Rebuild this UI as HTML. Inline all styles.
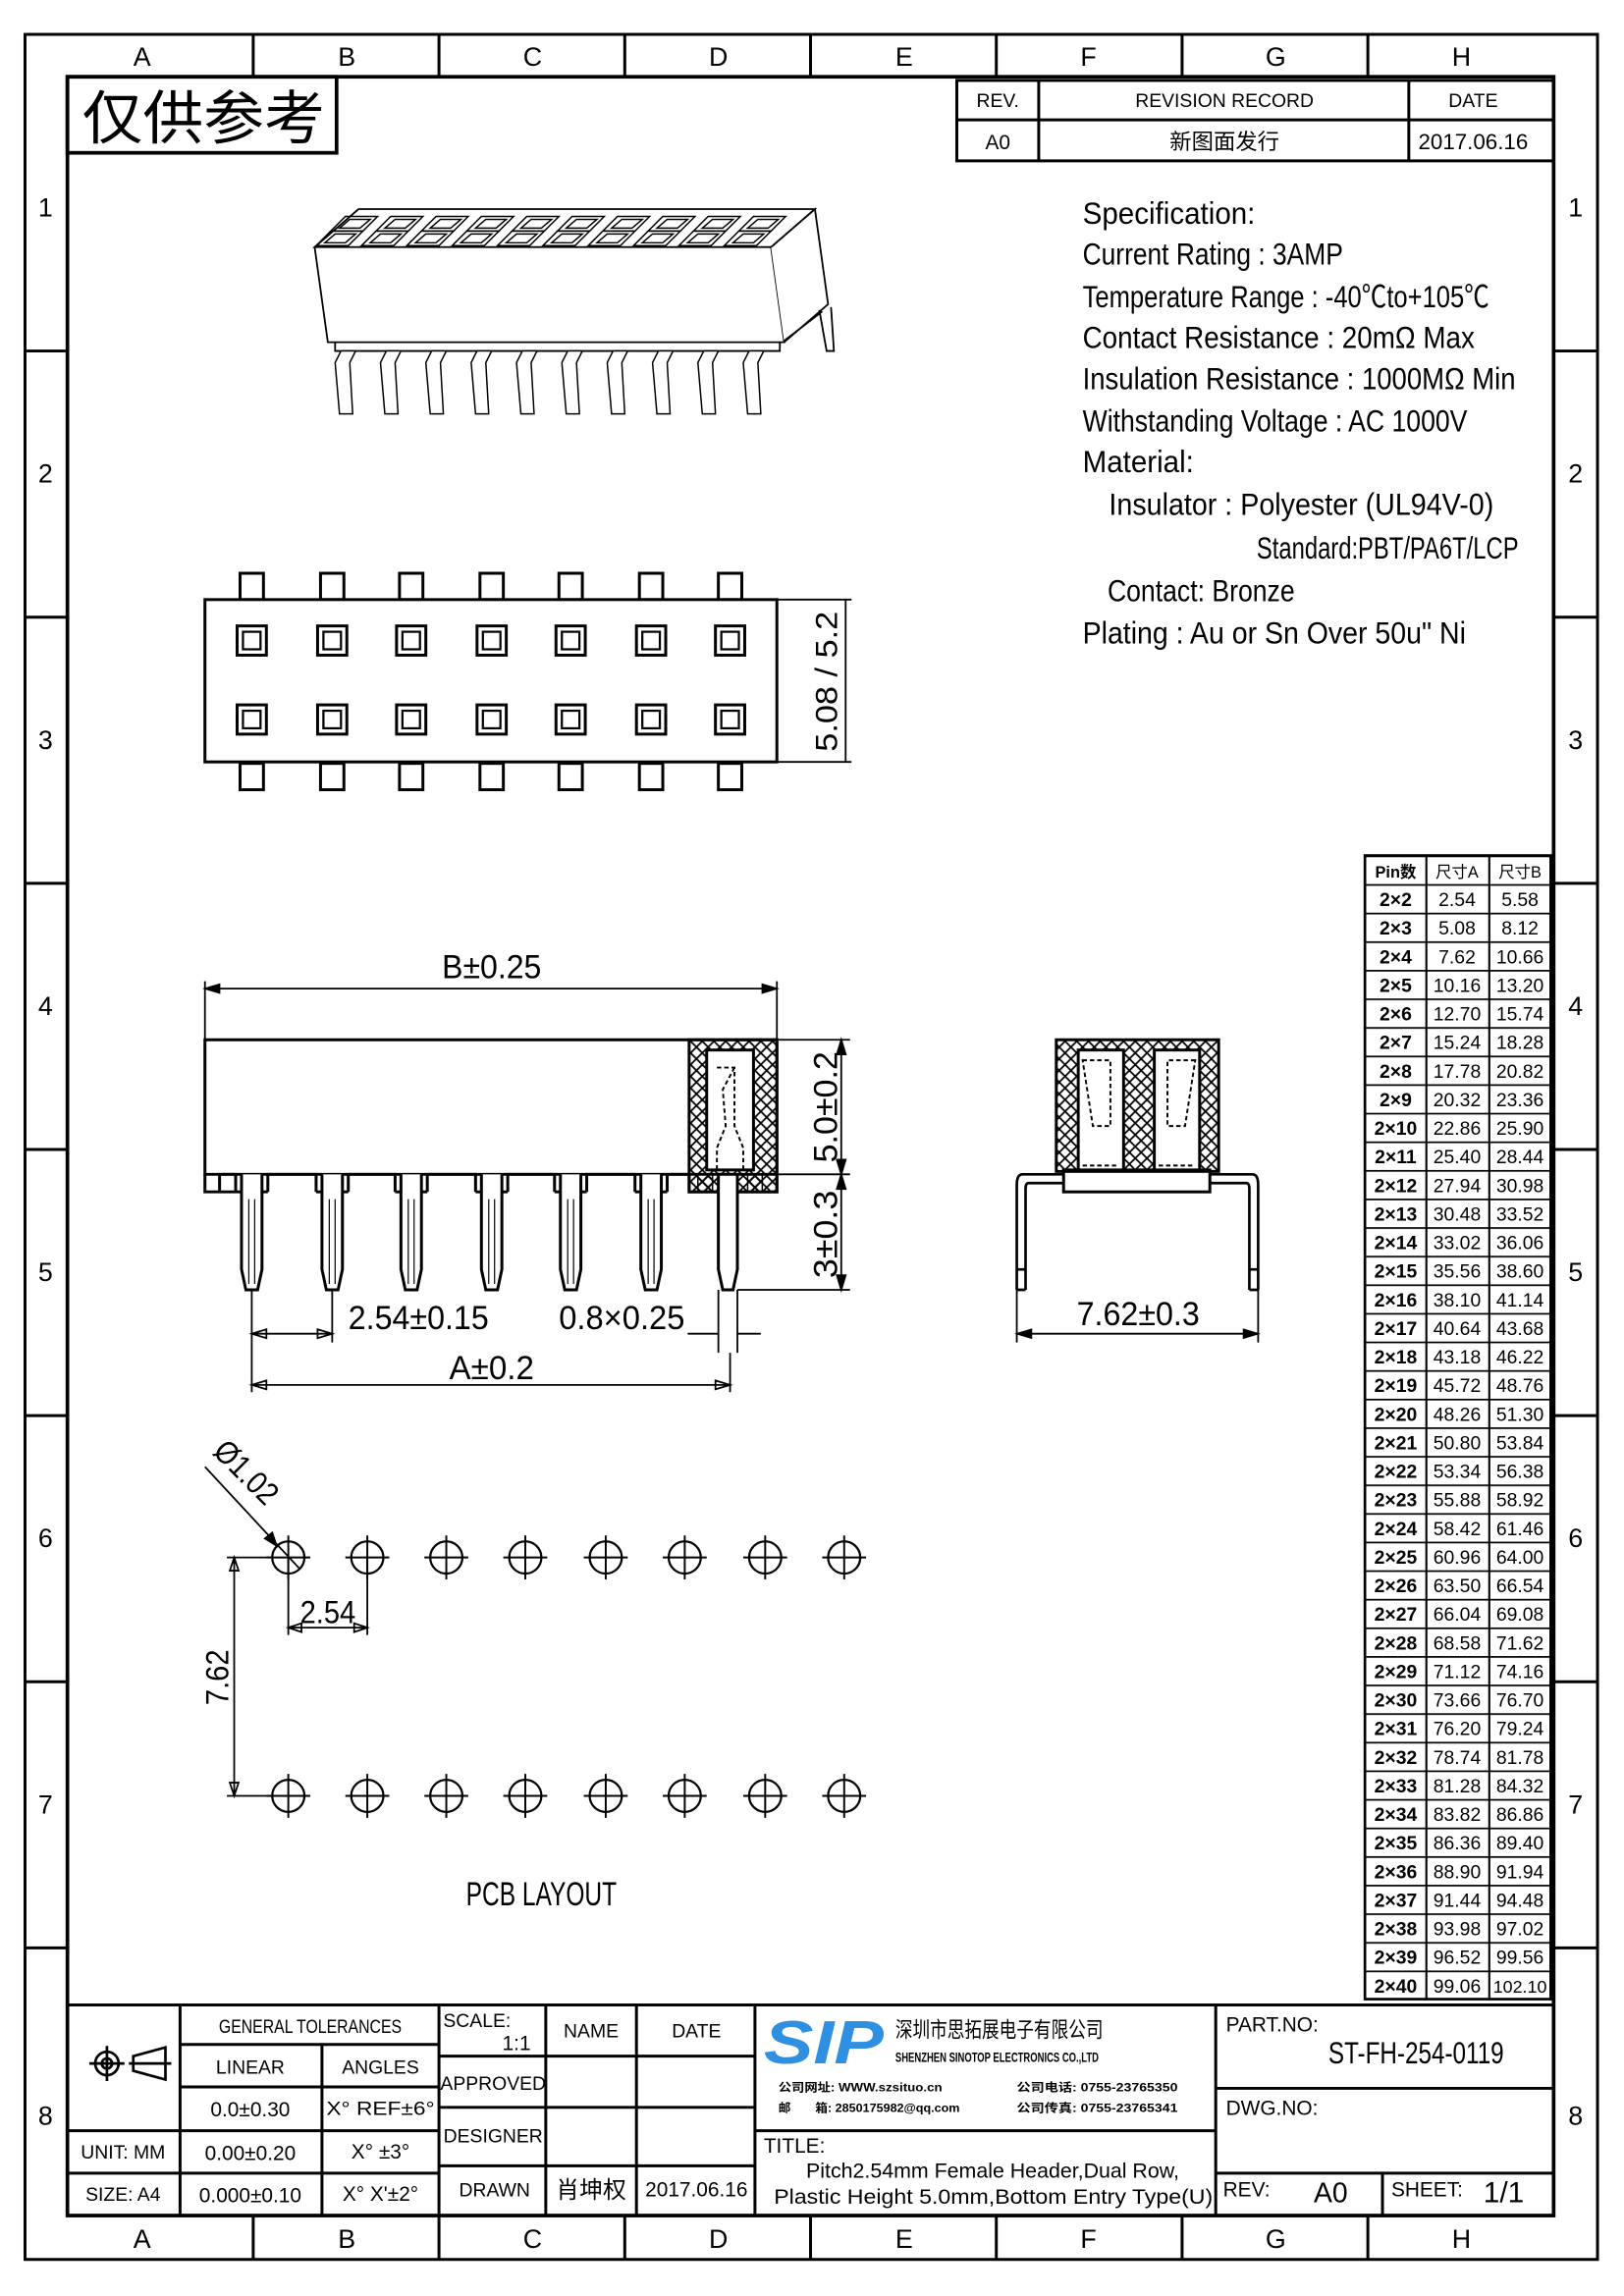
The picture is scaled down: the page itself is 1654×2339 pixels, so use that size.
<!DOCTYPE html>
<html><head><meta charset="utf-8"><style>
html,body{margin:0;padding:0;background:#fff}
svg{display:block}
text{font-family:"Liberation Sans Narrow","Liberation Sans","Noto Sans CJK SC",sans-serif;fill:#000}
.cj{font-family:"Noto Sans CJK SC","WenQuanYi Zen Hei",sans-serif}
</style></head><body>
<svg width="1654" height="2339" viewBox="0 0 1110 1570" xmlns="http://www.w3.org/2000/svg">
<defs>
<pattern id="hx" width="8" height="8" patternUnits="userSpaceOnUse"><path d="M0 0L8 8M8 0L0 8" stroke="#000" stroke-width="1.2"/></pattern>
<pattern id="tl" x="933" y="585" width="127" height="19.55" patternUnits="userSpaceOnUse"><line x1="0" y1="0.5" x2="127" y2="0.5" stroke="#000" stroke-width="1.4"/></pattern>
<g id="hole"><circle r="11" fill="none" stroke="#000" stroke-width="1.5"/><path d="M-15 0H15M0-15V15" stroke="#000" stroke-width="1.3"/></g>
<g id="sq"><rect x="-10" y="-10" width="20" height="20" fill="none" stroke="#000" stroke-width="2"/><rect x="-6" y="-6" width="12" height="12" fill="none" stroke="#000" stroke-width="1.5"/></g>
<g id="tab"><rect x="-8" y="0" width="16" height="18" fill="#fff" stroke="#000" stroke-width="2"/></g>
<g id="pin"><path d="M-7 803V868L-4 882H4L7 868V803" fill="#fff" stroke="#000" stroke-width="2"/><path d="M-2 820V878M2 820V878" stroke="#000" stroke-width="0.8"/></g>
<g id="ph"><path d="M0 0H22L12 10H-10Z M3 2H17L10 8H-4Z" fill="none" stroke="#000" stroke-width="1"/></g>
<g id="leg"><path d="M0 0L4 -8H14L10 0L12 35H3Z" fill="#fff" stroke="#000" stroke-width="1"/><path d="M10 0L14-8" stroke="#000" stroke-width="0.8"/></g>
</defs>
<rect width="1110" height="1570" fill="#fff"/>
<rect x="17" y="23.5" width="1075" height="1521.5" fill="none" stroke="#000" stroke-width="2"/>
<rect x="46" y="52.5" width="1016" height="1462.5" fill="none" stroke="#000" stroke-width="2.5"/>
<path d="M173 23.5V52.5M300 23.5V52.5M427 23.5V52.5M554 23.5V52.5M681 23.5V52.5M808 23.5V52.5M935 23.5V52.5M173 1515V1545M300 1515V1545M427 1515V1545M554 1515V1545M681 1515V1545M808 1515V1545M935 1515V1545" stroke="#000" stroke-width="2"/>
<path d="M17 240H46M17 422H46M17 604H46M17 786H46M17 968H46M17 1150H46M17 1332H46M1062 240H1092M1062 422H1092M1062 604H1092M1062 786H1092M1062 968H1092M1062 1150H1092M1062 1332H1092" stroke="#000" stroke-width="2"/>
<g font-size="18" text-anchor="middle">
<text x="97" y="45">A</text><text x="237" y="45">B</text><text x="364" y="45">C</text><text x="491" y="45">D</text><text x="618" y="45">E</text><text x="744" y="45">F</text><text x="872" y="45">G</text><text x="999" y="45">H</text>
<text x="97" y="1537">A</text><text x="237" y="1537">B</text><text x="364" y="1537">C</text><text x="491" y="1537">D</text><text x="618" y="1537">E</text><text x="744" y="1537">F</text><text x="872" y="1537">G</text><text x="999" y="1537">H</text>
<text x="31" y="148">1</text><text x="31" y="330">2</text><text x="31" y="512">3</text><text x="31" y="694">4</text><text x="31" y="876">5</text><text x="31" y="1058">6</text><text x="31" y="1240">7</text><text x="31" y="1453">8</text>
<text x="1077" y="148">1</text><text x="1077" y="330">2</text><text x="1077" y="512">3</text><text x="1077" y="694">4</text><text x="1077" y="876">5</text><text x="1077" y="1058">6</text><text x="1077" y="1240">7</text><text x="1077" y="1453">8</text>
</g>
<rect x="46" y="52.5" width="184" height="52" fill="none" stroke="#000" stroke-width="2.5"/>
<text x="56" y="95" font-size="40" class="cj" textLength="166" lengthAdjust="spacingAndGlyphs">仅供参考</text>
<rect x="654" y="55" width="408" height="55" fill="none" stroke="#000" stroke-width="2"/>
<path d="M654 82H1062M710 55V110M963 55V110" stroke="#000" stroke-width="2"/>
<g font-size="13" text-anchor="middle">
<text x="682" y="73">REV.</text><text x="837" y="73">REVISION RECORD</text><text x="1007" y="73">DATE</text>
<text x="682" y="102" font-size="14">A0</text><text x="837" y="102" font-size="15" class="cj">新图面发行</text><text x="1007" y="102" font-size="15">2017.06.16</text>
</g>
<g font-size="21">
<text x="740" y="153" textLength="118" lengthAdjust="spacingAndGlyphs">Specification:</text>
<text x="740" y="181" textLength="178" lengthAdjust="spacingAndGlyphs">Current Rating : 3AMP</text>
<text x="740" y="210" textLength="278" lengthAdjust="spacingAndGlyphs">Temperature Range : -40℃to+105℃</text>
<text x="740" y="238" textLength="268" lengthAdjust="spacingAndGlyphs">Contact Resistance : 20mΩ Max</text>
<text x="740" y="266" textLength="296" lengthAdjust="spacingAndGlyphs">Insulation Resistance : 1000MΩ Min</text>
<text x="740" y="295" textLength="263" lengthAdjust="spacingAndGlyphs">Withstanding Voltage : AC 1000V</text>
<text x="740" y="323" textLength="76" lengthAdjust="spacingAndGlyphs">Material:</text>
<text x="758" y="352" textLength="263" lengthAdjust="spacingAndGlyphs">Insulator : Polyester (UL94V-0)</text>
<text x="859" y="382" textLength="179" lengthAdjust="spacingAndGlyphs">Standard:PBT/PA6T/LCP</text>
<text x="757" y="411" textLength="128" lengthAdjust="spacingAndGlyphs">Contact: Bronze</text>
<text x="740" y="440" textLength="262" lengthAdjust="spacingAndGlyphs">Plating : Au or Sn Over 50u" Ni</text>
</g>
<g stroke="#000" stroke-width="1.2" fill="none">
<path d="M215 169L245 143H557L527 169Z" fill="#fff"/>
<path d="M215 169H527L536 234H224Z" fill="#fff"/>
<path d="M527 169L557 143L566 208L536 234" fill="#fff"/>
<path d="M229 234V240H533V234"/>
<path d="M536 233L562 213"/>
<path d="M560 212L565 240H570L568 210"/>
</g>
<g>
<use href="#ph" x="236" y="148"/><use href="#ph" x="267" y="148"/><use href="#ph" x="298" y="148"/><use href="#ph" x="329" y="148"/><use href="#ph" x="360" y="148"/><use href="#ph" x="391" y="148"/><use href="#ph" x="422" y="148"/><use href="#ph" x="453" y="148"/><use href="#ph" x="484" y="148"/><use href="#ph" x="515" y="148"/>
<use href="#ph" x="226" y="158"/><use href="#ph" x="257" y="158"/><use href="#ph" x="288" y="158"/><use href="#ph" x="319" y="158"/><use href="#ph" x="350" y="158"/><use href="#ph" x="381" y="158"/><use href="#ph" x="412" y="158"/><use href="#ph" x="443" y="158"/><use href="#ph" x="474" y="158"/><use href="#ph" x="505" y="158"/>
<use href="#leg" x="229" y="248"/><use href="#leg" x="260" y="248"/><use href="#leg" x="291" y="248"/><use href="#leg" x="322" y="248"/><use href="#leg" x="353" y="248"/><use href="#leg" x="384" y="248"/><use href="#leg" x="415" y="248"/><use href="#leg" x="446" y="248"/><use href="#leg" x="477" y="248"/><use href="#leg" x="508" y="248"/>
</g>
<g>
<use href="#tab" x="172" y="392"/><use href="#tab" x="227" y="392"/><use href="#tab" x="281" y="392"/><use href="#tab" x="336" y="392"/><use href="#tab" x="390" y="392"/><use href="#tab" x="445" y="392"/><use href="#tab" x="499" y="392"/>
<use href="#tab" x="172" y="522"/><use href="#tab" x="227" y="522"/><use href="#tab" x="281" y="522"/><use href="#tab" x="336" y="522"/><use href="#tab" x="390" y="522"/><use href="#tab" x="445" y="522"/><use href="#tab" x="499" y="522"/>
<rect x="140" y="410" width="391" height="111" fill="#fff" stroke="#000" stroke-width="2"/>
<use href="#sq" x="172" y="438"/><use href="#sq" x="227" y="438"/><use href="#sq" x="281" y="438"/><use href="#sq" x="336" y="438"/><use href="#sq" x="390" y="438"/><use href="#sq" x="445" y="438"/><use href="#sq" x="499" y="438"/>
<use href="#sq" x="172" y="492"/><use href="#sq" x="227" y="492"/><use href="#sq" x="281" y="492"/><use href="#sq" x="336" y="492"/><use href="#sq" x="390" y="492"/><use href="#sq" x="445" y="492"/><use href="#sq" x="499" y="492"/>
<path d="M531 410H582M531 521H582M578 410V521" stroke="#000" stroke-width="1.2"/>
<text transform="translate(572 466) rotate(-90)" font-size="21" text-anchor="middle" textLength="96" lengthAdjust="spacingAndGlyphs">5.08 / 5.2</text>
</g>
<g stroke="#000" fill="none">
<path d="M140 671V711M531 671V711M140 676H531" stroke-width="1.2"/>
<path d="M140 676l10-3v6zM531 676l-10-3v6z" fill="#000"/>
<path d="M140 711H531V803H140Z" fill="#fff" stroke-width="2"/>
<path d="M140 803V815H150V803H161V815M183 815V803H216V815M238 815V803H270V815M292 815V803H325V815M347 815V803H379V815M401 815V803H434V815M456 815V803H471V815H531V803M150 815H161" stroke-width="2"/>
<path d="M161 815H183M216 815H238M270 815H292M325 815H347M379 815H401M434 815H456" stroke-width="2"/>
<rect x="471" y="711" width="60" height="104" fill="url(#hx)" stroke-width="2"/>
<rect x="483" y="718" width="32" height="82" fill="#fff" stroke-width="2"/>
<rect x="477" y="803" width="10" height="12" fill="url(#hx)"/>
<rect x="511" y="803" width="10" height="12" fill="url(#hx)"/>
<path d="M490 730h12v40l6 15v15M502 730l-8 15 2 25-6 15v15" stroke-dasharray="3 2" stroke-width="1.3"/>
</g>
<use href="#pin" x="172"/><use href="#pin" x="227"/><use href="#pin" x="281"/><use href="#pin" x="336"/><use href="#pin" x="390"/><use href="#pin" x="445"/>
<g stroke="#000" stroke-width="2" fill="#fff"><path d="M491 803V868L494 882H501L504 868V803Z"/></g>
<g stroke="#000" stroke-width="1.2" fill="none">
<path d="M531 711H581M531 803H581M504 882H581M575 711V882"/>
<path d="M575 711l-3 10h6zM575 803l-3-10h6zM575 803l-3 10h6zM575 882l-3-10h6z" fill="#000"/>
<path d="M172 882V918M227 882V918M172 912H227M172 912l10-3v6zM227 912l-10-3v6z"/>
<path d="M491 882V925M504 882V925M470 912H491M504 912H520"/>
<path d="M172 918V952M499 925V952M172 947H499M172 947l10-3v6zM499 947l-10-3v6z"/>
</g>
<g font-size="23">
<text x="336" y="669" text-anchor="middle" textLength="68" lengthAdjust="spacingAndGlyphs">B±0.25</text>
<text transform="translate(572 757) rotate(-90)" text-anchor="middle" textLength="76" lengthAdjust="spacingAndGlyphs">5.0±0.2</text>
<text transform="translate(572 844) rotate(-90)" text-anchor="middle" textLength="60" lengthAdjust="spacingAndGlyphs">3±0.3</text>
<text x="286" y="909" text-anchor="middle" textLength="96" lengthAdjust="spacingAndGlyphs">2.54±0.15</text>
<text x="425" y="909" text-anchor="middle" textLength="86" lengthAdjust="spacingAndGlyphs">0.8×0.25</text>
<text x="336" y="943" text-anchor="middle" textLength="58" lengthAdjust="spacingAndGlyphs">A±0.2</text>
<text x="778" y="906" text-anchor="middle" textLength="84" lengthAdjust="spacingAndGlyphs">7.62±0.3</text>
</g>
<g stroke="#000" fill="none">
<path d="M740 803H699Q695 803 695 810V882M740 809H703Q701 809 701 813V882M695 882H701M695 868H701" stroke-width="1.8"/>
<path d="M815 803H856Q860 803 860 810V882M815 809H852Q854 809 854 813V882M854 882H860M854 868H860" stroke-width="1.8"/>
<rect x="727" y="800" width="100" height="15" fill="#fff" stroke-width="2"/>
<rect x="722" y="711" width="111" height="90" fill="url(#hx)" stroke-width="2"/>
<rect x="737" y="718" width="31" height="82" fill="#fff" stroke-width="2"/>
<rect x="789" y="718" width="31" height="82" fill="#fff" stroke-width="2"/>
<path d="M740 725H759V770H747ZM817 725H798V770H810Z" stroke-dasharray="3 2" stroke-width="1.3"/>
<path d="M740 797H765M792 797H817" stroke-dasharray="3 2" stroke-width="1.3"/>
<path d="M695 882V918M860 882V918M695 912H860" stroke-width="1.2"/>
<path d="M695 912l10-3v6zM860 912l-10-3v6z" fill="#000" stroke-width="1"/>
</g>
<g>
<use href="#hole" x="197" y="1065"/><use href="#hole" x="251" y="1065"/><use href="#hole" x="305" y="1065"/><use href="#hole" x="359" y="1065"/><use href="#hole" x="414" y="1065"/><use href="#hole" x="468" y="1065"/><use href="#hole" x="523" y="1065"/><use href="#hole" x="577" y="1065"/>
<use href="#hole" x="197" y="1228"/><use href="#hole" x="251" y="1228"/><use href="#hole" x="305" y="1228"/><use href="#hole" x="359" y="1228"/><use href="#hole" x="414" y="1228"/><use href="#hole" x="468" y="1228"/><use href="#hole" x="577" y="1228"/><use href="#hole" x="523" y="1228"/>
</g>
<g stroke="#000" stroke-width="1.2" fill="none">
<path d="M140 1003L205 1073"/><path d="M189 1057l-3-9l-5 4z" fill="#000"/>
<path d="M197 1065V1118M251 1065V1118M197 1113H251M197 1113l9-3v6zM251 1113l-9-3v6z"/>
<path d="M186 1065H155M186 1228H155M160 1065V1228M160 1065l-3 9h6zM160 1228l-3-9h6z"/>
</g>
<g font-size="22">
<text transform="translate(163 1012) rotate(45)" text-anchor="middle" textLength="52" lengthAdjust="spacingAndGlyphs">Ø1.02</text>
<text x="224" y="1110" text-anchor="middle" textLength="38" lengthAdjust="spacingAndGlyphs">2.54</text>
<text transform="translate(156 1147) rotate(-90)" text-anchor="middle" textLength="38" lengthAdjust="spacingAndGlyphs">7.62</text>
<text x="370" y="1303" text-anchor="middle" font-size="23" textLength="103" lengthAdjust="spacingAndGlyphs">PCB LAYOUT</text>
</g>
<rect x="933" y="585" width="127" height="782" fill="url(#tl)" stroke="#000" stroke-width="1.8"/>
<path d="M975 585V1367M1018 585V1367" stroke="#000" stroke-width="1.4"/>
<g font-size="13" text-anchor="middle" font-weight="bold">
<text x="954" y="600"><tspan x="954" font-size="11">Pin数</tspan><tspan x="954" dy="19.55">2×2</tspan><tspan x="954" dy="19.55">2×3</tspan><tspan x="954" dy="19.55">2×4</tspan><tspan x="954" dy="19.55">2×5</tspan><tspan x="954" dy="19.55">2×6</tspan><tspan x="954" dy="19.55">2×7</tspan><tspan x="954" dy="19.55">2×8</tspan><tspan x="954" dy="19.55">2×9</tspan><tspan x="954" dy="19.55">2×10</tspan><tspan x="954" dy="19.55">2×11</tspan><tspan x="954" dy="19.55">2×12</tspan><tspan x="954" dy="19.55">2×13</tspan><tspan x="954" dy="19.55">2×14</tspan><tspan x="954" dy="19.55">2×15</tspan><tspan x="954" dy="19.55">2×16</tspan><tspan x="954" dy="19.55">2×17</tspan><tspan x="954" dy="19.55">2×18</tspan><tspan x="954" dy="19.55">2×19</tspan><tspan x="954" dy="19.55">2×20</tspan><tspan x="954" dy="19.55">2×21</tspan><tspan x="954" dy="19.55">2×22</tspan><tspan x="954" dy="19.55">2×23</tspan><tspan x="954" dy="19.55">2×24</tspan><tspan x="954" dy="19.55">2×25</tspan><tspan x="954" dy="19.55">2×26</tspan><tspan x="954" dy="19.55">2×27</tspan><tspan x="954" dy="19.55">2×28</tspan><tspan x="954" dy="19.55">2×29</tspan><tspan x="954" dy="19.55">2×30</tspan><tspan x="954" dy="19.55">2×31</tspan><tspan x="954" dy="19.55">2×32</tspan><tspan x="954" dy="19.55">2×33</tspan><tspan x="954" dy="19.55">2×34</tspan><tspan x="954" dy="19.55">2×35</tspan><tspan x="954" dy="19.55">2×36</tspan><tspan x="954" dy="19.55">2×37</tspan><tspan x="954" dy="19.55">2×38</tspan><tspan x="954" dy="19.55">2×39</tspan><tspan x="954" dy="19.55">2×40</tspan></text>
</g>
<g font-size="13" text-anchor="middle">
<text x="996" y="600"><tspan x="996" font-size="11">尺寸A</tspan><tspan x="996" dy="19.55">2.54</tspan><tspan x="996" dy="19.55">5.08</tspan><tspan x="996" dy="19.55">7.62</tspan><tspan x="996" dy="19.55">10.16</tspan><tspan x="996" dy="19.55">12.70</tspan><tspan x="996" dy="19.55">15.24</tspan><tspan x="996" dy="19.55">17.78</tspan><tspan x="996" dy="19.55">20.32</tspan><tspan x="996" dy="19.55">22.86</tspan><tspan x="996" dy="19.55">25.40</tspan><tspan x="996" dy="19.55">27.94</tspan><tspan x="996" dy="19.55">30.48</tspan><tspan x="996" dy="19.55">33.02</tspan><tspan x="996" dy="19.55">35.56</tspan><tspan x="996" dy="19.55">38.10</tspan><tspan x="996" dy="19.55">40.64</tspan><tspan x="996" dy="19.55">43.18</tspan><tspan x="996" dy="19.55">45.72</tspan><tspan x="996" dy="19.55">48.26</tspan><tspan x="996" dy="19.55">50.80</tspan><tspan x="996" dy="19.55">53.34</tspan><tspan x="996" dy="19.55">55.88</tspan><tspan x="996" dy="19.55">58.42</tspan><tspan x="996" dy="19.55">60.96</tspan><tspan x="996" dy="19.55">63.50</tspan><tspan x="996" dy="19.55">66.04</tspan><tspan x="996" dy="19.55">68.58</tspan><tspan x="996" dy="19.55">71.12</tspan><tspan x="996" dy="19.55">73.66</tspan><tspan x="996" dy="19.55">76.20</tspan><tspan x="996" dy="19.55">78.74</tspan><tspan x="996" dy="19.55">81.28</tspan><tspan x="996" dy="19.55">83.82</tspan><tspan x="996" dy="19.55">86.36</tspan><tspan x="996" dy="19.55">88.90</tspan><tspan x="996" dy="19.55">91.44</tspan><tspan x="996" dy="19.55">93.98</tspan><tspan x="996" dy="19.55">96.52</tspan><tspan x="996" dy="19.55">99.06</tspan></text>
<text x="1039" y="600"><tspan x="1039" font-size="11">尺寸B</tspan><tspan x="1039" dy="19.55">5.58</tspan><tspan x="1039" dy="19.55">8.12</tspan><tspan x="1039" dy="19.55">10.66</tspan><tspan x="1039" dy="19.55">13.20</tspan><tspan x="1039" dy="19.55">15.74</tspan><tspan x="1039" dy="19.55">18.28</tspan><tspan x="1039" dy="19.55">20.82</tspan><tspan x="1039" dy="19.55">23.36</tspan><tspan x="1039" dy="19.55">25.90</tspan><tspan x="1039" dy="19.55">28.44</tspan><tspan x="1039" dy="19.55">30.98</tspan><tspan x="1039" dy="19.55">33.52</tspan><tspan x="1039" dy="19.55">36.06</tspan><tspan x="1039" dy="19.55">38.60</tspan><tspan x="1039" dy="19.55">41.14</tspan><tspan x="1039" dy="19.55">43.68</tspan><tspan x="1039" dy="19.55">46.22</tspan><tspan x="1039" dy="19.55">48.76</tspan><tspan x="1039" dy="19.55">51.30</tspan><tspan x="1039" dy="19.55">53.84</tspan><tspan x="1039" dy="19.55">56.38</tspan><tspan x="1039" dy="19.55">58.92</tspan><tspan x="1039" dy="19.55">61.46</tspan><tspan x="1039" dy="19.55">64.00</tspan><tspan x="1039" dy="19.55">66.54</tspan><tspan x="1039" dy="19.55">69.08</tspan><tspan x="1039" dy="19.55">71.62</tspan><tspan x="1039" dy="19.55">74.16</tspan><tspan x="1039" dy="19.55">76.70</tspan><tspan x="1039" dy="19.55">79.24</tspan><tspan x="1039" dy="19.55">81.78</tspan><tspan x="1039" dy="19.55">84.32</tspan><tspan x="1039" dy="19.55">86.86</tspan><tspan x="1039" dy="19.55">89.40</tspan><tspan x="1039" dy="19.55">91.94</tspan><tspan x="1039" dy="19.55">94.48</tspan><tspan x="1039" dy="19.55">97.02</tspan><tspan x="1039" dy="19.55">99.56</tspan><tspan x="1039" dy="19.55" font-size="12">102.10</tspan></text>
</g>
<g stroke="#000" stroke-width="2" fill="none">
<path d="M46 1371H1062"/>
<path d="M123 1371V1457M46 1457H300M46 1486H300M123 1398H300M123 1427H300M220 1398V1515M123 1457V1515"/>
<path d="M300 1371V1515M373 1371V1515M435 1371V1515M516 1371V1515M300 1406H516M300 1441H516M300 1481H516"/>
<path d="M516 1457H831M831 1371V1515M831 1428H1062M831 1486H1062M945 1486V1515"/>
</g>
<g stroke="#000" stroke-width="1.8" fill="none">
<circle cx="73" cy="1411" r="8"/><circle cx="73" cy="1411" r="3.5"/><path d="M61 1411H85M73 1399V1423"/>
<path d="M91 1406L113 1400V1422L91 1416ZM88 1411H117"/>
</g>
<g font-size="13" text-anchor="middle">
<text x="212" y="1390" textLength="125" lengthAdjust="spacingAndGlyphs">GENERAL TOLERANCES</text>
<text x="171" y="1418">LINEAR</text><text x="260" y="1418">ANGLES</text>
<text x="171" y="1447" font-size="14">0.0±0.30</text><text x="260" y="1446" font-size="13" textLength="74" lengthAdjust="spacingAndGlyphs">X° REF±6°</text>
<text x="84" y="1476" font-size="13">UNIT: MM</text><text x="171" y="1477" font-size="14">0.00±0.20</text><text x="260" y="1476" font-size="14">X° ±3°</text>
<text x="84" y="1505" font-size="13">SIZE: A4</text><text x="171" y="1506" font-size="14">0.000±0.10</text><text x="260" y="1505" font-size="14">X° X'±2°</text>
<text x="326" y="1386" font-size="13">SCALE:</text><text x="353" y="1402" font-size="14">1:1</text>
<text x="404" y="1393">NAME</text><text x="476" y="1393">DATE</text>
<text x="337" y="1429">APPROVED</text><text x="337" y="1465">DESIGNER</text><text x="338" y="1502">DRAWN</text>
<text x="404" y="1503" font-size="16" class="cj">肖坤权</text><text x="476" y="1502" font-size="14">2017.06.16</text>
</g>
<text x="522" y="1411" font-size="42" font-weight="bold" font-style="italic" style="fill:#2f8fe0;font-family:'Liberation Sans',sans-serif" textLength="82" lengthAdjust="spacingAndGlyphs">SIP</text>
<text x="612" y="1393" font-size="15" class="cj" textLength="142" lengthAdjust="spacingAndGlyphs">深圳市思拓展电子有限公司</text>
<text x="612" y="1410" font-size="9" font-weight="bold" textLength="139" lengthAdjust="spacingAndGlyphs">SHENZHEN SINOTOP ELECTRONICS CO.,LTD</text>
<g font-size="8" font-weight="bold">
<text x="532" y="1430" textLength="112" lengthAdjust="spacingAndGlyphs">公司网址: WWW.szsituo.cn</text>
<text x="532" y="1444" textLength="124" lengthAdjust="spacingAndGlyphs">邮　　箱: 2850175982@qq.com</text>
<text x="695" y="1430" textLength="110" lengthAdjust="spacingAndGlyphs">公司电话: 0755-23765350</text>
<text x="695" y="1444" textLength="110" lengthAdjust="spacingAndGlyphs">公司传真: 0755-23765341</text>
</g>
<g font-size="14">
<text x="522" y="1472">TITLE:</text>
<text x="551" y="1489" textLength="255" lengthAdjust="spacingAndGlyphs">Pitch2.54mm Female Header,Dual Row,</text>
<text x="529" y="1507" textLength="300" lengthAdjust="spacingAndGlyphs">Plastic Height 5.0mm,Bottom Entry Type(U)</text>
<text x="838" y="1389">PART.NO:</text>
<text x="908" y="1411" font-size="21" textLength="120" lengthAdjust="spacingAndGlyphs">ST-FH-254-0119</text>
<text x="838" y="1446">DWG.NO:</text>
<text x="836" y="1502">REV:</text><text x="898" y="1506" font-size="19">A0</text>
<text x="951" y="1502">SHEET:</text><text x="1014" y="1506" font-size="20">1/1</text>
</g>
</svg>
</body></html>
